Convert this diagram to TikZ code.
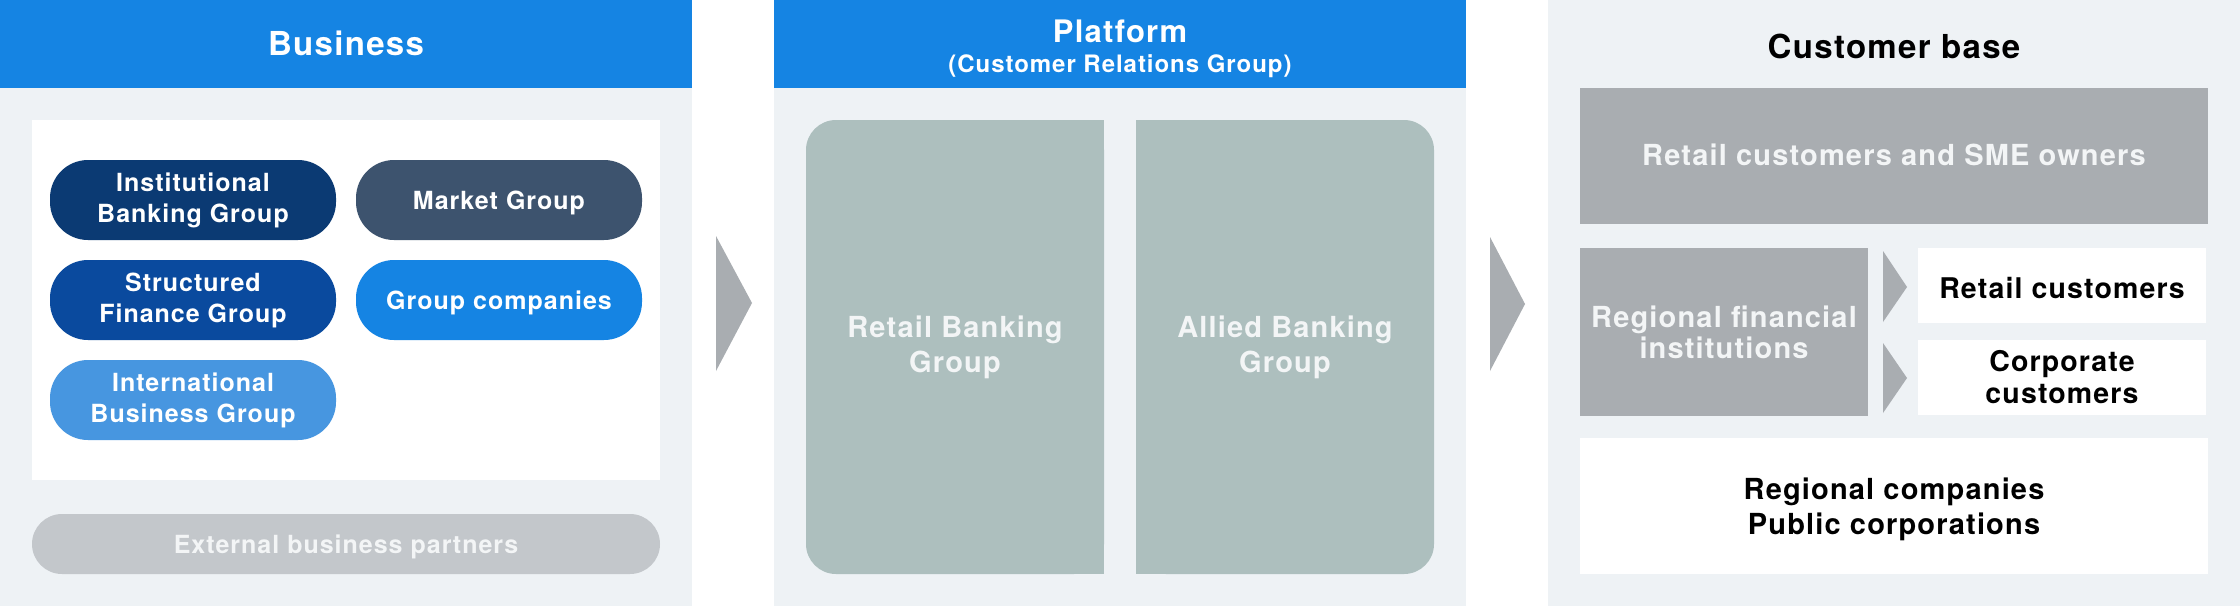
\documentclass[tikz,border=0pt]{standalone}
\usepackage{fontspec}
\setmainfont{TeX Gyre Heros}[LetterSpace=4]
\definecolor{hdr}{HTML}{1584E3}
\definecolor{panel}{HTML}{EEF2F5}
\definecolor{ibg}{HTML}{0B3A73}
\definecolor{sfg}{HTML}{0A4A9E}
\definecolor{intl}{HTML}{4796E0}
\definecolor{mkt}{HTML}{3D536E}
\definecolor{grpco}{HTML}{1584E3}
\definecolor{ext}{HTML}{C3C7CB}
\definecolor{plat}{HTML}{ADBFBE}
\definecolor{cgray}{HTML}{A9ADB1}
\definecolor{softwhite}{HTML}{F3F5F6}
\begin{document}
\begin{tikzpicture}[x=1pt,y=-1pt,
  pill/.style={rounded corners=38pt, inner sep=0pt, minimum width=286pt, minimum height=80pt,
    text=white, align=center, font=\bfseries\fontsize{25}{31}\selectfont},
  oneline/.style={text height=21pt, text depth=3pt},
  titletext/.style={inner sep=0pt, anchor=base, text=white, font=\bfseries\fontsize{33}{40}\selectfont},
  platbox/.style={inner sep=0pt, text=softwhite, align=center, font=\bfseries\fontsize{29}{35}\selectfont},
  graybox/.style={fill=cgray, inner sep=0pt, text=softwhite, align=center, font=\bfseries\fontsize{29}{31}\selectfont},
  whitebox/.style={fill=white, inner sep=0pt, text=black, align=center, font=\bfseries\fontsize{28.5}{32}\selectfont},
  chevron/.style={fill=cgray}
]
\useasboundingbox (0,0) rectangle (2240,606);
\fill[white] (0,0) rectangle (2240,606);

% ---------- Business panel ----------
\fill[panel] (0,0) rectangle (692,606);
\fill[hdr] (0,0) rectangle (692,88);
\node[titletext] (business) at (346,55) {Business};
\fill[white] (32,120) rectangle (660,480);
\node[pill, fill=ibg] (ibg) at (193,200) {Institutional\\Banking Group};
\node[pill, oneline, fill=mkt] (mkt) at (499,200) {Market Group};
\node[pill, fill=sfg] (sfg) at (193,300) {Structured\\Finance Group};
\node[pill, oneline, fill=grpco] (grpco) at (499,300) {Group companies};
\node[pill, fill=intl] (intl) at (193,400) {International\\Business Group};
\node[pill, oneline, fill=ext, rounded corners=30pt, minimum width=628pt, minimum height=60pt, text=softwhite] (ext) at (346,544) {External business partners};

% arrow 1
\fill[chevron] (716,236) -- (752,303) -- (716,371) -- cycle;

% ---------- Platform panel ----------
\fill[panel] (774,0) rectangle (1466,606);
\fill[hdr] (774,0) rectangle (1466,88);
\node[titletext, font=\bfseries\fontsize{31}{38}\selectfont] (platform) at (1120,42) {Platform};
\node[titletext, font=\bfseries\fontsize{24}{30}\selectfont] (crg) at (1120,72) {(Customer Relations Group)};
\fill[plat, rounded corners=30pt] (806,120) rectangle (1104,574);
\fill[plat] (960,120) rectangle (1104,574);
\fill[plat, rounded corners=30pt] (1136,120) rectangle (1434,574);
\fill[plat] (1136,120) rectangle (1280,574);
\node[platbox] (rbg) at (955,347) {Retail Banking\\Group};
\node[platbox] (abg) at (1285,347) {Allied Banking\\Group};

% arrow 2
\fill[chevron] (1490,237) -- (1525,304) -- (1490,371) -- cycle;

% ---------- Customer base panel ----------
\fill[panel] (1548,0) rectangle (2240,606);
\node[inner sep=0pt, anchor=base, text=black, font=\bfseries\fontsize{33}{38}\selectfont] (cbase) at (1894,58) {Customer base};
\fill[cgray] (1580,88) rectangle (2208,224);
\node[graybox, fill=none] (sme) at (1894,154.5) {Retail customers and SME owners};
\node[graybox, minimum width=288pt, minimum height=168pt] (rfi) at (1724,332) {Regional financial\\institutions};
\fill[chevron] (1883,251) -- (1907,287) -- (1883,322) -- cycle;
\fill[chevron] (1883,343) -- (1907,378) -- (1883,413) -- cycle;
\fill[white] (1918,248) rectangle (2206,323);
\node[whitebox, fill=none] (rc) at (2062,288.5) {Retail customers};
\node[whitebox, minimum width=288pt, minimum height=75pt] (cc) at (2062,377.5) {Corporate\\customers};
\fill[white] (1580,438) rectangle (2208,574);
\node[whitebox, fill=none, font=\bfseries\fontsize{29}{35}\selectfont] (rcpc) at (1894,509) {Regional companies\\Public corporations};
\end{tikzpicture}
\end{document}
